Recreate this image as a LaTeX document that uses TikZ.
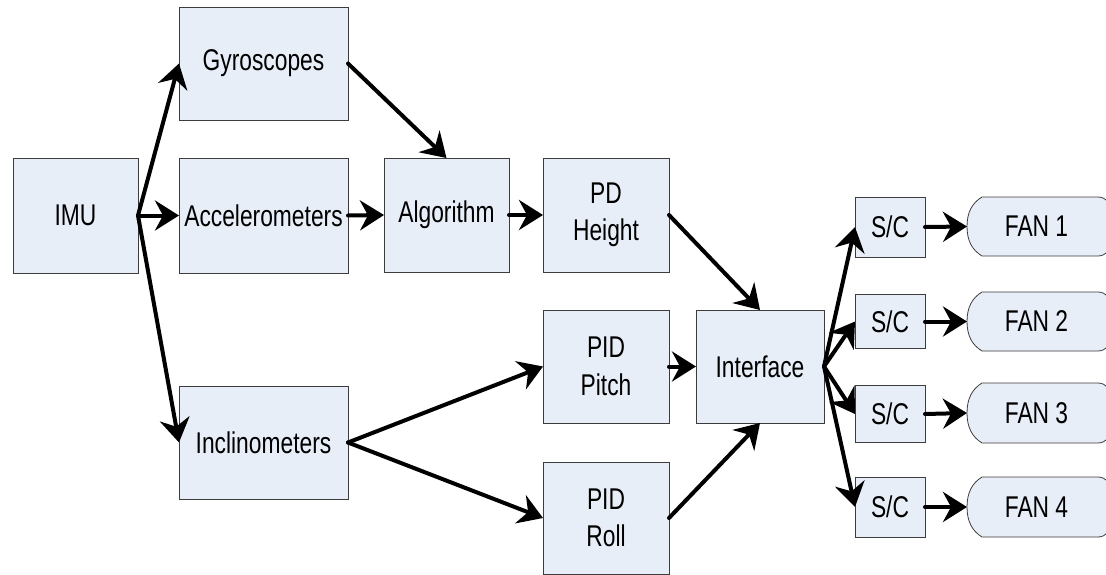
\documentclass[tikz,border=0pt]{standalone}
\usepackage{fontspec}
\setmainfont{Liberation Sans}[FakeStretch=0.76]
\usetikzlibrary{arrows.meta,backgrounds}
\definecolor{boxfill}{HTML}{E8EEF8}
\definecolor{boxedge}{HTML}{3C3C3C}
\begin{document}
\begin{tikzpicture}[x=1pt,y=-1pt,
  blk/.style={draw=boxedge, line width=0.8pt, fill=boxfill, inner sep=0pt, outer sep=0pt,
    align=center, font=\fontsize{30}{37.5}\selectfont},
  fanlbl/.style={inner sep=0pt, outer sep=0pt, align=center, font=\fontsize{30}{37.5}\selectfont,
    minimum width=139pt},
  fanshape/.style={draw=boxedge, line width=0.8pt, fill=boxfill},
  conn/.style={line width=4pt, line cap=round, -{Stealth[length=24pt,width=30pt,inset=8pt]}},
]
\useasboundingbox (0,0) rectangle (1106,575);
\begin{scope}
\clip (0,0) rectangle (1106,575);
% blocks
\node[blk, minimum width=125pt, minimum height=115pt] (imu)   at (75.5,215.5) {IMU};
\node[blk, minimum width=169pt, minimum height=113pt] (gyro)  at (263.5,63.5) {Gyroscopes};
\node[blk, minimum width=169pt, minimum height=115pt] (acc)   at (263.5,215.5) {Accelerometers};
\node[blk, minimum width=169pt, minimum height=113pt] (incl)  at (263.5,442.5) {Inclinometers};
\node[blk, minimum width=125pt, minimum height=114pt] (algo)  at (446.5,215) {Algorithm};
\node[blk, minimum width=126pt, minimum height=114pt] (pdh)   at (606,215) {PD\\Height};
\node[blk, minimum width=126pt, minimum height=113pt] (pitch) at (606,366.5) {PID\\Pitch};
\node[blk, minimum width=126pt, minimum height=112pt] (roll)  at (606,518) {PID\\Roll};
\node[blk, minimum width=128pt, minimum height=113pt] (intf)  at (760,366.5) {Interface};
\node[blk, minimum width=70pt, minimum height=60pt] (sc1) at (890,227) {S/C};
\node[blk, minimum width=70pt, minimum height=54pt] (sc2) at (890,321.5) {S/C};
\node[blk, minimum width=70pt, minimum height=57pt] (sc3) at (890,414) {S/C};
\node[blk, minimum width=70pt, minimum height=60pt] (sc4) at (890,507) {S/C};
% fans
\node[fanlbl, minimum height=59pt] (fan1) at (1036.5,226.5) {FAN 1};
\node[fanlbl, minimum height=59pt] (fan2) at (1036.5,321.5) {FAN 2};
\node[fanlbl, minimum height=60pt] (fan3) at (1036.5,413) {FAN 3};
\node[fanlbl, minimum height=60pt] (fan4) at (1036.5,507) {FAN 4};
\begin{scope}[on background layer]
\foreach \f in {fan1,fan2,fan3,fan4}{
  \filldraw[fanshape] ([xshift=15pt]\f.north west) -- ([xshift=-8pt]\f.north east)
    .. controls (\f.north east) and ([xshift=6pt,yshift=-6pt]\f.north east) .. ([xshift=10pt]\f.east)
    .. controls ([xshift=6pt,yshift=6pt]\f.south east) and (\f.south east) .. ([xshift=-8pt]\f.south east)
    -- ([xshift=15pt]\f.south west)
    .. controls ([xshift=5pt,yshift=6pt]\f.south west) and ([yshift=-14pt]\f.west) .. (\f.west)
    .. controls ([yshift=14pt]\f.west) and ([xshift=5pt,yshift=-6pt]\f.north west) .. ([xshift=15pt]\f.north west) -- cycle;
}
\end{scope}
% connectors
\draw[conn] (imu.east) -- (gyro.west);
\draw[conn] (imu.east) -- (acc.west);
\draw[conn] (imu.east) -- (incl.west);
\draw[conn] (gyro.east) -- (algo.north);
\draw[conn] (acc.east) -- (algo.west);
\draw[conn] (algo.east) -- (pdh.west);
\draw[conn] (pdh.east) -- (intf.north);
\draw[conn] (incl.east) -- (pitch.west);
\draw[conn] (incl.east) -- (roll.west);
\draw[conn] (pitch.east) -- (intf.west);
\draw[conn] (roll.east) -- (intf.south);
\foreach \i in {1,2,3,4}{
  \draw[conn] (intf.east) -- (sc\i.west);
  \draw[conn] (sc\i.east) -- (fan\i.west);
}
\end{scope}
\end{tikzpicture}
\end{document}
